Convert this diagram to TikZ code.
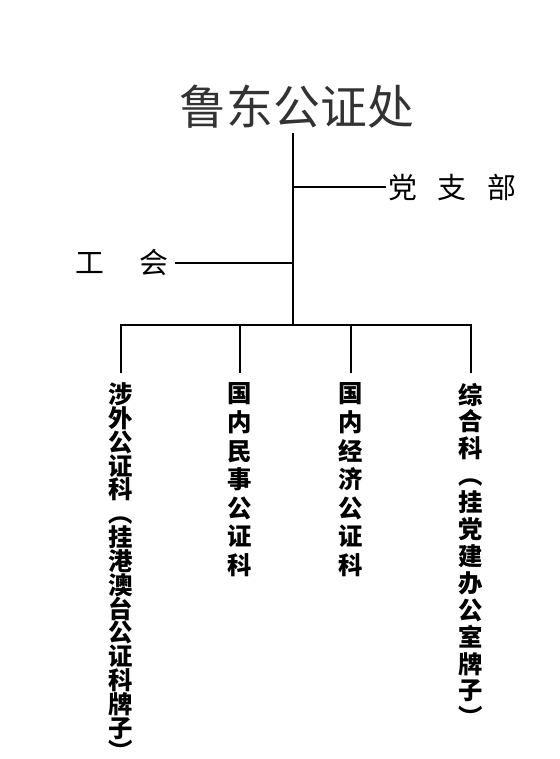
\documentclass[tikz,border=0pt]{standalone}
\usepackage{fontspec}
\newfontfamily\cjk{Noto Sans CJK SC}

\begin{document}
\begin{tikzpicture}[
    x = 1bp, y = -1bp, % pixel grid, y downward
    line width = 1.8bp, % line style
    title node/.style={font=\cjk\fontsize{47}{50}\selectfont, text=black!80},
    side node/.style={font=\cjk\fontsize{29}{30}\selectfont, inner sep=2bp},
    ke node/.style={font={\cjk\bfseries\fontsize{24.5}{#1}\selectfont\lineskiplimit=-100pt\relax},
      align=center, inner xsep=0pt, inner ysep=9bp, anchor=north}
  ]
  \useasboundingbox (0,0) rectangle (560,759);

  % Nodes
  \node[title node] (chu) at (297,107) {鲁东公证处};
  \coordinate (hub) at (293,325);
  \node[side node, anchor=west] (dang) at (386,187) {党\hspace{0.7em}支\hspace{0.7em}部};
  \node[side node, anchor=east, inner xsep=6bp] (gonghui) at (175,263) {工\hspace{1.2em}会};
  \node[ke node=23.9] (k1) at (121,373)
    {涉\\外\\公\\证\\科\\︵\\挂\\港\\澳\\台\\公\\证\\科\\牌\\子\\︶};
  \node[ke node=28.7] (k2) at (240,373) {国\\内\\民\\事\\公\\证\\科};
  \node[ke node=28.7] (k3) at (351,373) {国\\内\\经\\济\\公\\证\\科};
  \node[ke node=27] (k4) at (471,373)
    {综\\合\\科\\︵\\挂\\党\\建\\办\\公\\室\\牌\\子\\︶};

  % Edges
  \draw (chu.south -| hub) -- (hub);
  \draw (dang.west) -- (dang.west -| hub);
  \draw (gonghui.east) -- (gonghui.east -| hub);
  \draw (k1.north) -- (k1.north |- hub) -- (k4.north |- hub) -- (k4.north);
  \foreach \k in {k2,k3}
    \draw (\k.north |- hub) -- (\k.north);
\end{tikzpicture}
\end{document}
